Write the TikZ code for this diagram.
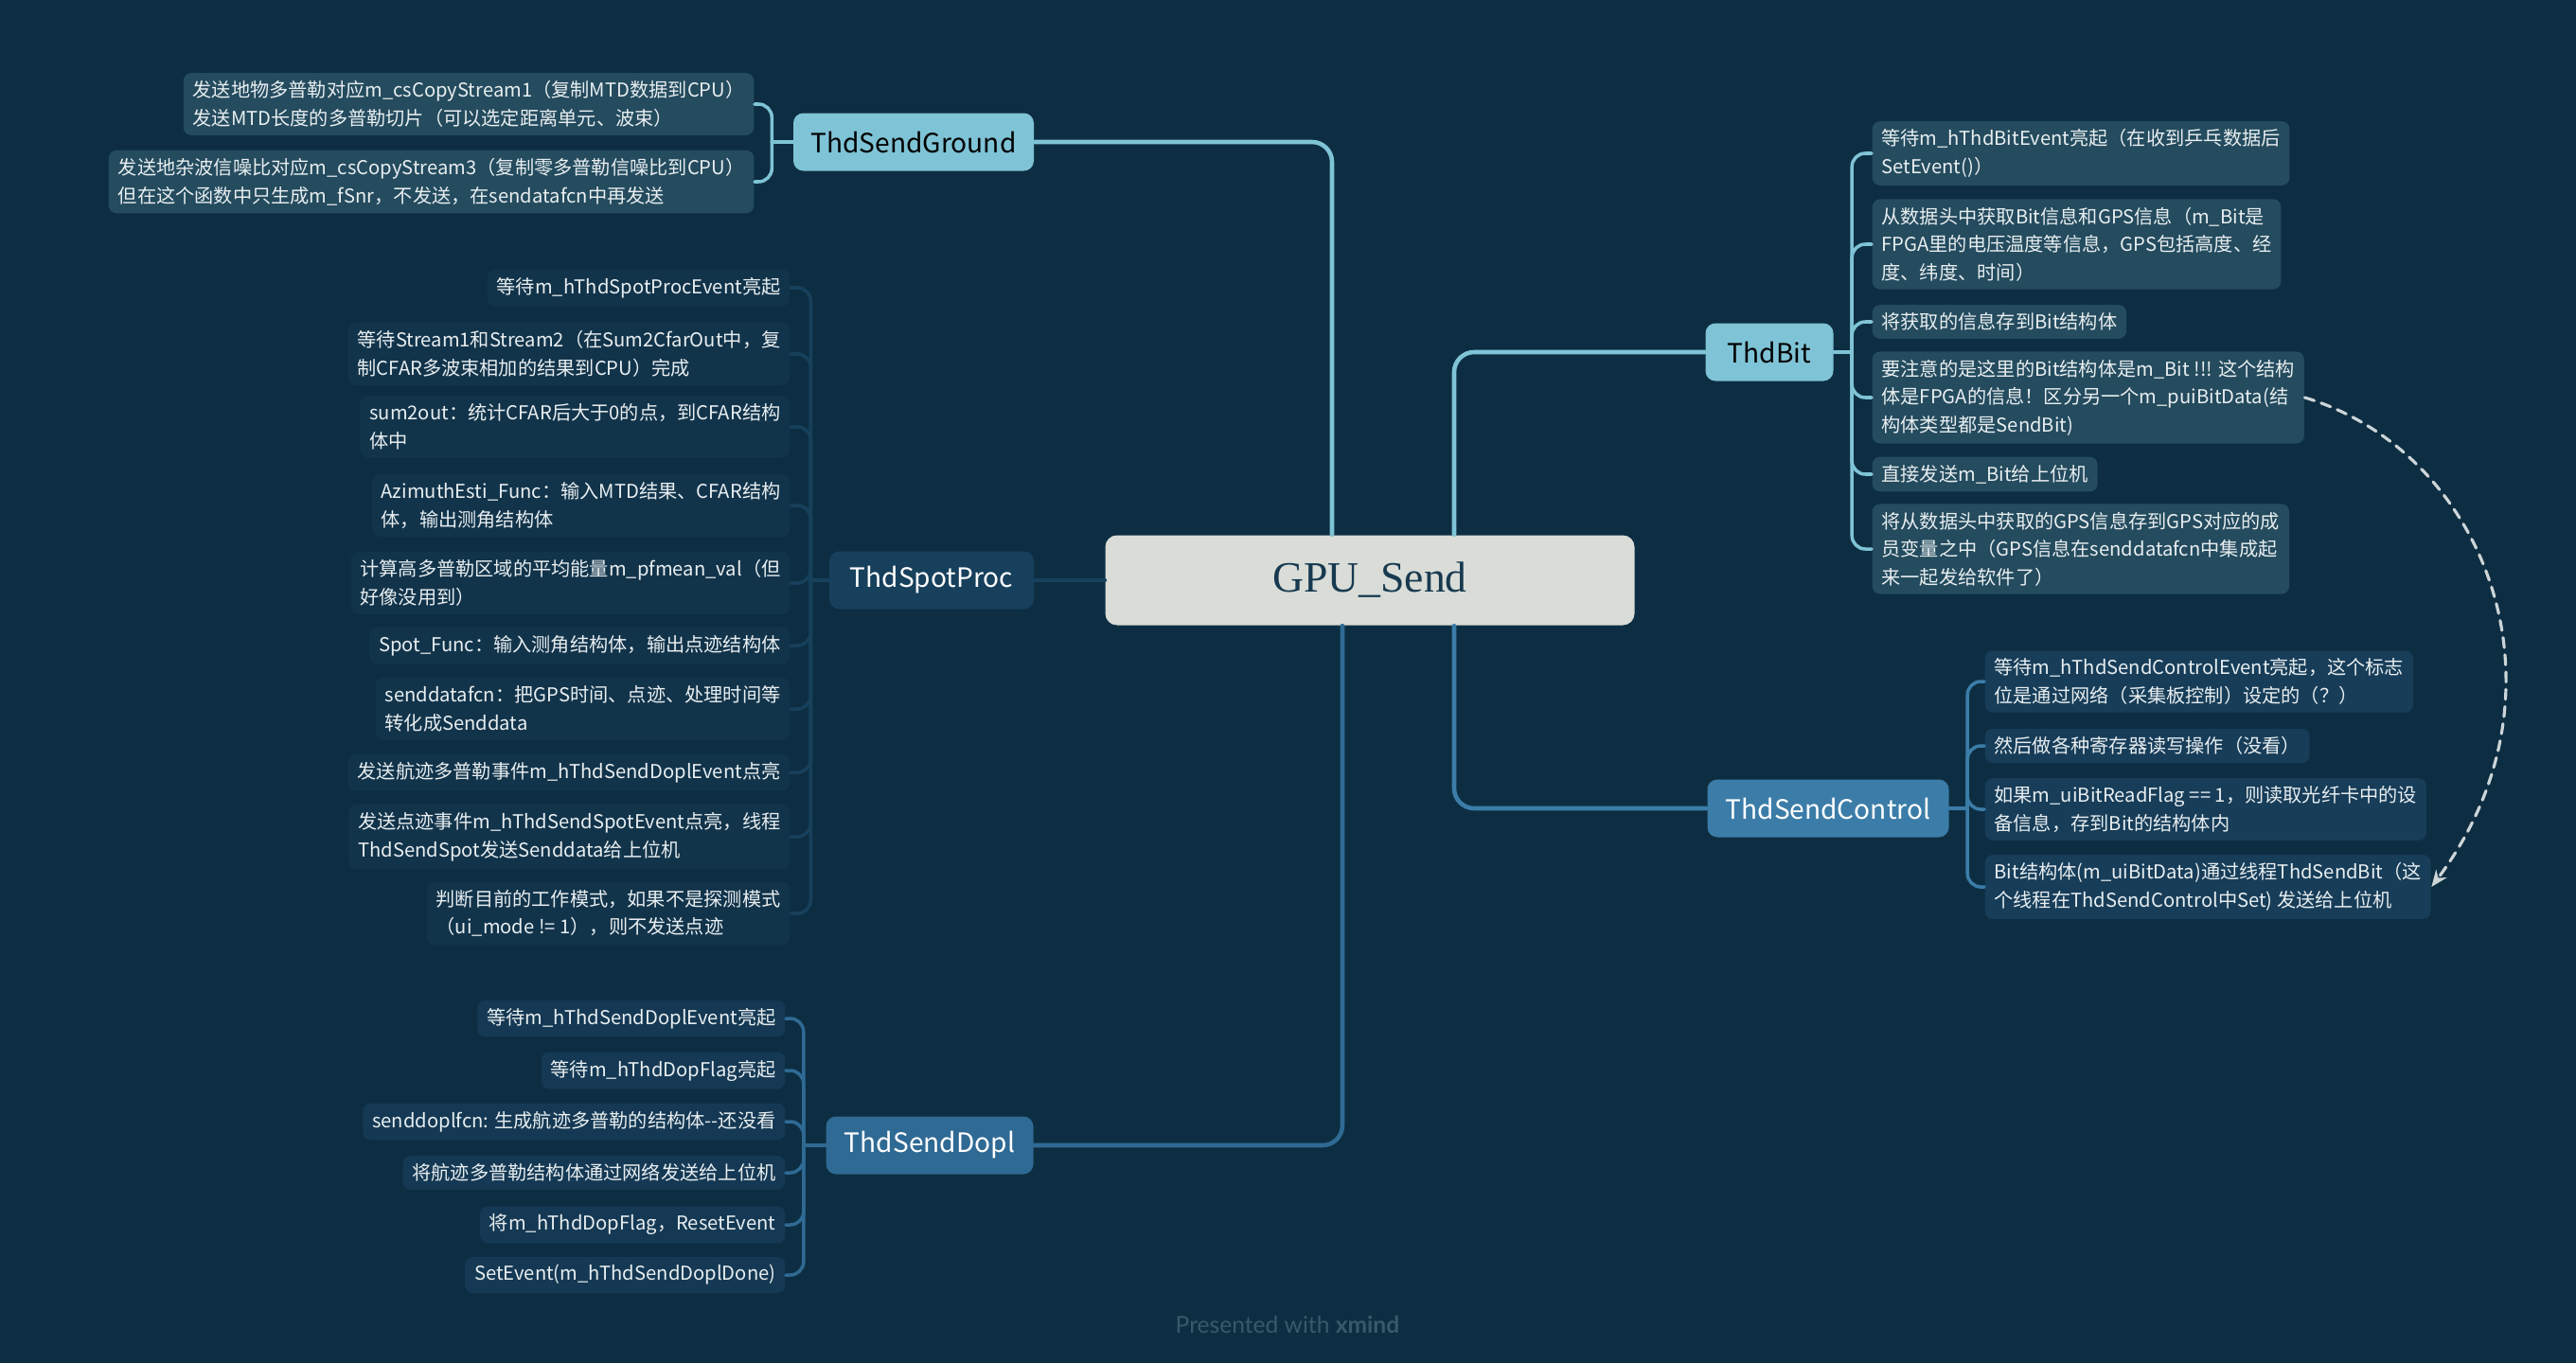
\documentclass[tikz,border=0pt]{standalone}
\usepackage{fontspec}
\setmainfont{Noto Sans CJK SC}
\newfontfamily\rootfont{Liberation Serif}
\newfontfamily\footfont{Lato}
\usetikzlibrary{arrows.meta}

\definecolor{bgnavy}{HTML}{0D2E42}
\definecolor{rootfill}{HTML}{D9DCD7}
\definecolor{roottext}{HTML}{173A50}
\definecolor{lightblue}{HTML}{7FC3D6}
\definecolor{spotblue}{HTML}{17405C}
\definecolor{doplblue}{HTML}{2F6A94}
\definecolor{ctrlblue}{HTML}{3B7DA8}
\definecolor{gbleaf}{HTML}{244B5E}
\definecolor{spleaf}{HTML}{12344B}
\definecolor{dpleaf}{HTML}{153954}
\definecolor{ctleaf}{HTML}{173D59}
\definecolor{leaftext}{HTML}{E8EEF0}
\definecolor{dashgray}{HTML}{CDD5D8}
\definecolor{footgray}{HTML}{3A586B}

\begin{document}
\begin{tikzpicture}[x=1cm,y=-1cm,>={Stealth[length=5pt,width=4pt]},line cap=round,line join=round,
  leaf/.style={rounded corners=2.3pt,inner xsep=2.8pt,inner ysep=2.4pt,align=left,text=leaftext,font=\fontsize{5.75}{8.4}\selectfont},
  topic/.style={rounded corners=3pt,minimum height=0.61cm,inner sep=0pt,font=\fontsize{8}{9}\selectfont},
  mainln/.style={line width=1.3pt,rounded corners=6pt},
  brln/.style={line width=1pt,rounded corners=4pt},
  dasharr/.style={->,dashgray,line width=0.9pt,dash pattern=on 3pt off 2.2pt}]
\fill[bgnavy] (0,0) rectangle (27.21,14.40);
\useasboundingbox (0,0) rectangle (27.21,14.40);

% centre and main topics
\node[fill=rootfill,text=roottext,rounded corners=3.5pt,minimum width=5.59cm,minimum height=0.95cm,font=\rootfont\fontsize{13}{15}\selectfont] (ctr) at (14.47,6.13) {GPU\_Send};
\node[topic,fill=lightblue,text=black,minimum width=2.54cm] (gnd) at (9.65,1.50) {ThdSendGround};
\node[topic,fill=spotblue,text=white,minimum width=2.16cm] (sp) at (9.84,6.13) {ThdSpotProc};
\node[topic,fill=doplblue,text=white,minimum width=2.19cm] (dpl) at (9.82,12.10) {ThdSendDopl};
\node[topic,fill=lightblue,text=black,minimum width=1.35cm] (bit) at (18.69,3.72) {ThdBit};
\node[topic,fill=ctrlblue,text=white,minimum width=2.55cm] (ctl) at (19.31,8.54) {ThdSendControl};

\draw[mainln,lightblue] ([xshift=-4mm]ctr.north) |- (gnd.east);
\draw[mainln,lightblue] ([xshift=8.9mm]ctr.north) |- (bit.west);
\draw[mainln,spotblue] (ctr.west) -- (sp.east);
\draw[mainln,doplblue] ([xshift=-2.9mm]ctr.south) |- (dpl.east);
\draw[mainln,ctrlblue] ([xshift=8.9mm]ctr.south) |- (ctl.west);

% ThdSendGround
\node[leaf,fill=gbleaf,anchor=east] (g1) at (7.97,1.10) {发送地物多普勒对应m\_csCopyStream1（复制MTD数据到CPU）\\发送MTD长度的多普勒切片（可以选定距离单元、波束）};
\node[leaf,fill=gbleaf,anchor=east] (g2) at (7.97,1.92) {发送地杂波信噪比对应m\_csCopyStream3（复制零多普勒信噪比到CPU）\\但在这个函数中只生成m\_fSnr，不发送，在sendatafcn中再发送};
\coordinate (gndb) at ([xshift=-2.2mm]gnd.west);
\draw[brln,lightblue] (gnd.west) -- (gndb);
\draw[brln,lightblue] (gndb) |- (g1.east);
\draw[brln,lightblue] (gndb) |- (g2.east);

% ThdSpotProc
\node[leaf,fill=spleaf,anchor=east] (s1) at (8.35,3.04) {等待m\_hThdSpotProcEvent亮起};
\node[leaf,fill=spleaf,anchor=east] (s2) at (8.35,3.74) {等待Stream1和Stream2（在Sum2CfarOut中，复\\制CFAR多波束相加的结果到CPU）完成};
\node[leaf,fill=spleaf,anchor=east] (s3) at (8.35,4.51) {sum2out：统计CFAR后大于0的点，到CFAR结构\\体中};
\node[leaf,fill=spleaf,anchor=east] (s4) at (8.35,5.34) {AzimuthEsti\_Func：输入MTD结果、CFAR结构\\体，输出测角结构体};
\node[leaf,fill=spleaf,anchor=east] (s5) at (8.35,6.16) {计算高多普勒区域的平均能量m\_pfmean\_val（但\\好像没用到）};
\node[leaf,fill=spleaf,anchor=east] (s6) at (8.35,6.82) {Spot\_Func：输入测角结构体，输出点迹结构体};
\node[leaf,fill=spleaf,anchor=east] (s7) at (8.35,7.49) {senddatafcn：把GPS时间、点迹、处理时间等\\转化成Senddata};
\node[leaf,fill=spleaf,anchor=east] (s8) at (8.35,8.16) {发送航迹多普勒事件m\_hThdSendDoplEvent点亮};
\node[leaf,fill=spleaf,anchor=east] (s9) at (8.35,8.84) {发送点迹事件m\_hThdSendSpotEvent点亮，线程\\ThdSendSpot发送Senddata给上位机};
\node[leaf,fill=spleaf,anchor=east] (s10) at (8.35,9.65) {判断目前的工作模式，如果不是探测模式\\（ui\_mode != 1），则不发送点迹};
\coordinate (spb) at ([xshift=-1.9mm]sp.west);
\draw[brln,spotblue] (sp.west) -- (spb);
\foreach \i in {1,...,10} \draw[brln,spotblue] (spb) |- (s\i.east);

% ThdSendDopl
\node[leaf,fill=dpleaf,anchor=east] (d1) at (8.30,10.76) {等待m\_hThdSendDoplEvent亮起};
\node[leaf,fill=dpleaf,anchor=east] (d2) at (8.30,11.31) {等待m\_hThdDopFlag亮起};
\node[leaf,fill=dpleaf,anchor=east] (d3) at (8.30,11.85) {senddoplfcn: 生成航迹多普勒的结构体{-}{-}还没看};
\node[leaf,fill=dpleaf,anchor=east] (d4) at (8.30,12.39) {将航迹多普勒结构体通过网络发送给上位机};
\node[leaf,fill=dpleaf,anchor=east] (d5) at (8.30,12.94) {将m\_hThdDopFlag，ResetEvent};
\node[leaf,fill=dpleaf,anchor=east] (d6) at (8.30,13.47) {SetEvent(m\_hThdSendDoplDone)};
\coordinate (dplb) at ([xshift=-2.3mm]dpl.west);
\draw[brln,doplblue] (dpl.west) -- (dplb);
\foreach \i in {1,...,6} \draw[brln,doplblue] (dplb) |- (d\i.east);

% ThdBit
\node[leaf,fill=gbleaf,anchor=west] (b1) at (19.77,1.62) {等待m\_hThdBitEvent亮起（在收到乒乓数据后\\SetEvent()）};
\node[leaf,fill=gbleaf,anchor=west] (b2) at (19.77,2.58) {从数据头中获取Bit信息和GPS信息（m\_Bit是\\FPGA里的电压温度等信息，GPS包括高度、经\\度、纬度、时间）};
\node[leaf,fill=gbleaf,anchor=west] (b3) at (19.77,3.40) {将获取的信息存到Bit结构体};
\node[leaf,fill=gbleaf,anchor=west] (b4) at (19.77,4.20) {要注意的是这里的Bit结构体是m\_Bit !!! 这个结构\\体是FPGA的信息！区分另一个m\_puiBitData(结\\构体类型都是SendBit)};
\node[leaf,fill=gbleaf,anchor=west] (b5) at (19.77,5.01) {直接发送m\_Bit给上位机};
\node[leaf,fill=gbleaf,anchor=west] (b6) at (19.77,5.80) {将从数据头中获取的GPS信息存到GPS对应的成\\员变量之中（GPS信息在senddatafcn中集成起\\来一起发给软件了）};
\coordinate (bitb) at ([xshift=1.9mm]bit.east);
\draw[brln,lightblue] (bit.east) -- (bitb);
\foreach \i in {1,...,6} \draw[brln,lightblue] (bitb) |- (b\i.west);

% ThdSendControl
\node[leaf,fill=ctleaf,anchor=west] (c1) at (20.96,7.20) {等待m\_hThdSendControlEvent亮起，这个标志\\位是通过网络（采集板控制）设定的（？）};
\node[leaf,fill=ctleaf,anchor=west] (c2) at (20.96,7.88) {然后做各种寄存器读写操作（没看）};
\node[leaf,fill=ctleaf,anchor=west] (c3) at (20.96,8.55) {如果m\_uiBitReadFlag == 1，则读取光纤卡中的设\\备信息，存到Bit的结构体内};
\node[leaf,fill=ctleaf,anchor=west] (c4) at (20.96,9.37) {Bit结构体(m\_uiBitData)通过线程ThdSendBit（这\\个线程在ThdSendControl中Set) 发送给上位机};
\coordinate (ctlb) at ([xshift=1.9mm]ctl.east);
\draw[brln,ctrlblue] (ctl.east) -- (ctlb);
\foreach \i in {1,...,4} \draw[brln,ctrlblue] (ctlb) |- (c\i.west);

% relation
\draw[dasharr] (b4.east) .. controls +(1.9,0.57) and +(1.56,-2.08) .. (c4.east);

\node[text=footgray,font=\footfont\fontsize{7}{8}\selectfont] (foot) at (13.60,13.99) {Presented with \textbf{xmind}};
\end{tikzpicture}
\end{document}
